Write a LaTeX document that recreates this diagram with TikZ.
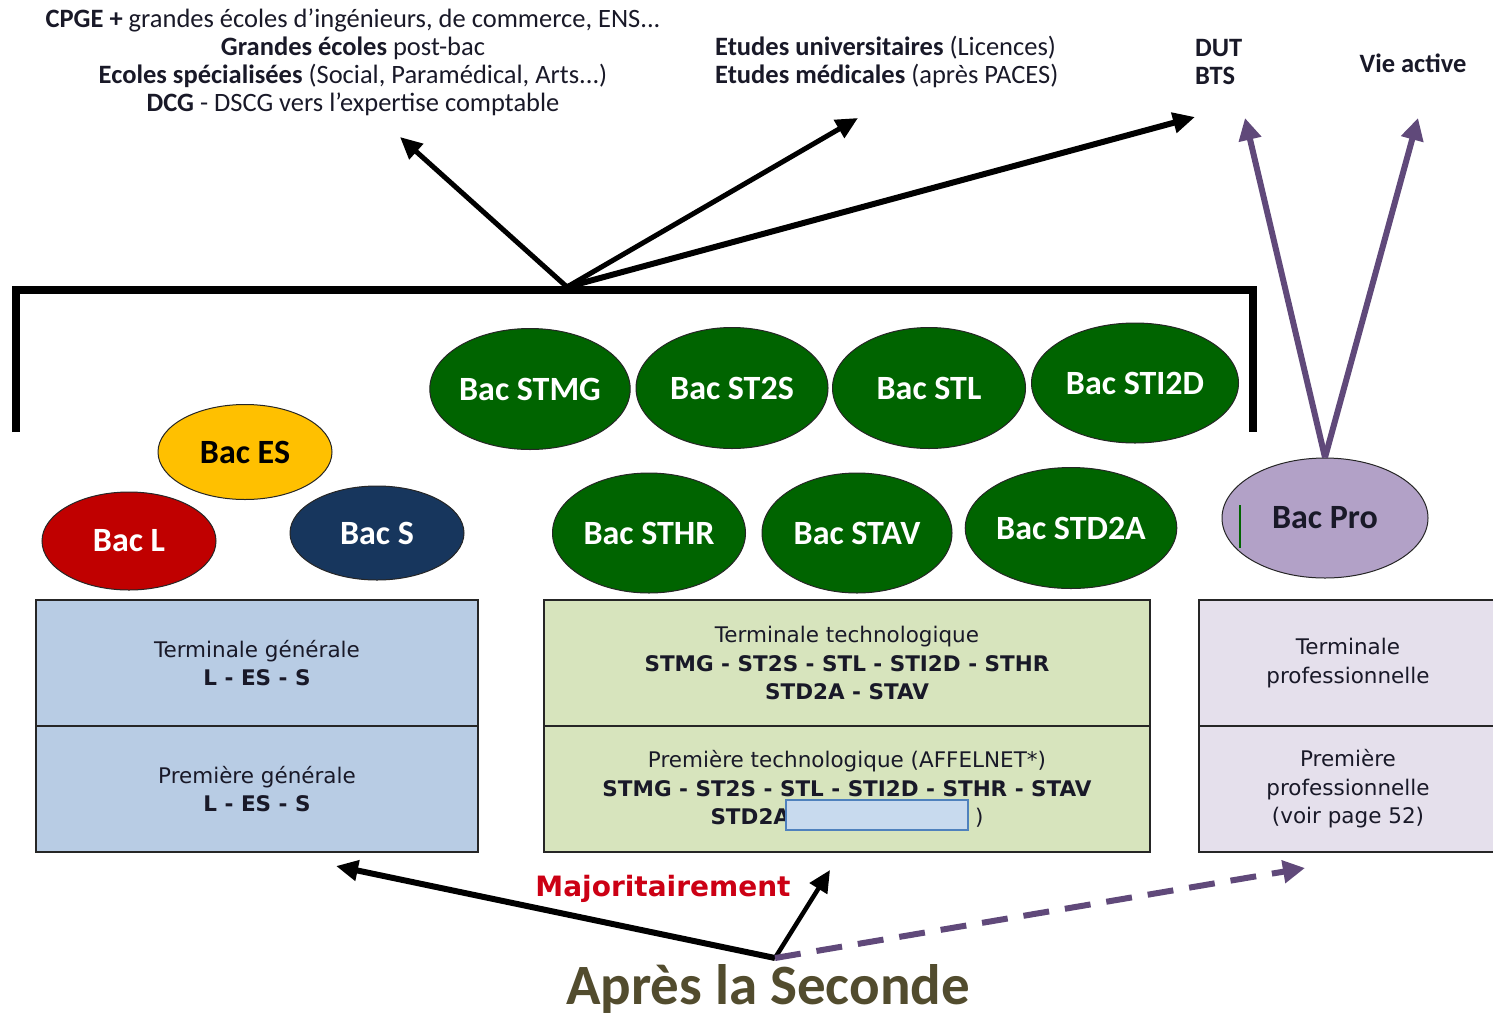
\documentclass[tikz,border=0pt]{standalone}
\usepackage{fontspec}
\setmainfont{Carlito}
\newfontfamily\boxfont{DejaVu Sans}
\usetikzlibrary{shapes.geometric,arrows.meta}
\definecolor{bacgreen}{RGB}{0,100,0}
\definecolor{bacred}{RGB}{192,0,0}
\definecolor{bacyellow}{RGB}{255,192,0}
\definecolor{bacnavy}{RGB}{23,54,93}
\definecolor{bacpro}{RGB}{178,161,199}
\definecolor{propurple}{RGB}{96,73,122}
\definecolor{genfill}{RGB}{184,204,228}
\definecolor{techfill}{RGB}{215,228,189}
\definecolor{profill}{RGB}{229,224,236}
\definecolor{redact}{RGB}{200,218,238}
\definecolor{redactedge}{RGB}{79,129,189}
\definecolor{txtdark}{RGB}{25,25,40}
\definecolor{olive}{RGB}{82,76,46}
\definecolor{majred}{RGB}{204,0,20}
\begin{document}
\begin{tikzpicture}[x=1pt,y=-1pt,
  bac/.style={ellipse, draw=black!85, line width=1pt, inner sep=0pt, text=white,
    font=\bfseries\fontsize{34}{34}\selectfont},
  classbox/.style={rectangle, draw=black!85, line width=1.5pt, inner sep=0pt, align=center,
    text=txtdark, font=\boxfont\fontsize{21.5}{28.5}\selectfont},
  toptext/.style={align=center, text=txtdark, font=\fontsize{26.5}{28}\selectfont, inner sep=0pt},
  blackarrow/.style={draw=black, line width=5pt, -{Triangle[length=22pt,width=20pt]}},
  purplearrow/.style={draw=propurple, line width=6pt, -{Triangle[length=22pt,width=22pt]}}
]
\useasboundingbox (0,0) rectangle (1493,1018);

% top texts
\node[toptext] (dest1) at (353,62) {\textbf{CPGE +} grandes écoles d'ingénieurs, de commerce, ENS...\\
  \textbf{Grandes écoles} post-bac\\
  \textbf{Ecoles spécialisées} (Social, Paramédical, Arts...)\\
  \textbf{DCG} - DSCG vers l'expertise comptable};
\node[toptext, align=left, anchor=west] (dest2) at (715,62) {\textbf{Etudes universitaires} (Licences)\\
  \textbf{Etudes médicales} (après PACES)};
\node[toptext, align=left, anchor=west] (dest3) at (1195,62) {\textbf{DUT}\\\textbf{BTS}};
\node[toptext] (dest4) at (1413,63) {\textbf{Vie active}};

% bracket
\draw[line width=8pt, line join=miter] (16,432) -- (16,290) -- (1253,290) -- (1253,432);
\coordinate (hub) at (567,287);
\coordinate (e1) at (400,137);
\coordinate (e2) at (858,118);
\coordinate (e3) at (1195,117);
\draw[blackarrow] (hub) -- (e1);
\draw[blackarrow] (hub) -- (e2);
\draw[blackarrow, line width=6pt] (hub) -- (e3);

% ellipses
\node[bac, fill=bacyellow, text=black, minimum width=174pt, minimum height=95pt] (es) at (245,452) {Bac ES};
\node[bac, fill=bacred, minimum width=174pt, minimum height=98pt] (l) at (129,541) {Bac L};
\node[bac, fill=bacnavy, minimum width=174pt, minimum height=94pt] (s) at (377,533) {Bac S};
\node[bac, fill=bacgreen, minimum width=193pt, minimum height=121pt] (stmg) at (530,389) {Bac STMG};
\node[bac, fill=bacgreen, minimum width=192pt, minimum height=121pt] (st2s) at (732,388) {Bac ST2S};
\node[bac, fill=bacgreen, minimum width=193pt, minimum height=121pt] (stl) at (929,388) {Bac STL};
\node[bac, fill=bacgreen, minimum width=207pt, minimum height=120pt] (sti2d) at (1135,383) {Bac STI2D};
\node[bac, fill=bacgreen, minimum width=193pt, minimum height=120pt] (sthr) at (649,533) {Bac STHR};
\node[bac, fill=bacgreen, minimum width=190pt, minimum height=120pt] (stav) at (857,533) {Bac STAV};
\node[bac, fill=bacgreen, minimum width=204pt, minimum height=121pt] (std2a) at (1071,528) {Bac STD2A};
\node[bac, fill=bacpro, text=txtdark, minimum width=206pt, minimum height=120pt] (pro) at (1325,518) {Bac Pro};
\draw[bacgreen, line width=1.5pt] (1240,505) -- (1240,548);

% purple arrows
\coordinate (p1) at (1245,118);
\coordinate (p2) at (1418,118);
\draw[purplearrow] (pro.north) -- (p1);
\draw[purplearrow] (pro.north) -- (p2);

% class boxes
\node[classbox, fill=genfill, minimum width=442pt, minimum height=126pt] (termgen) at (257,663)
  {Terminale générale\\\textbf{L - ES - S}};
\node[classbox, fill=genfill, minimum width=442pt, minimum height=126pt] (premgen) at (257,789)
  {Première générale\\\textbf{L - ES - S}};
\node[classbox, fill=techfill, minimum width=606pt, minimum height=126pt] (termtech) at (847,663)
  {Terminale technologique\\\textbf{STMG - ST2S - STL - STI2D - STHR}\\\textbf{STD2A - STAV}};
\node[classbox, fill=techfill, minimum width=606pt, minimum height=126pt] (premtech) at (847,789)
  {Première technologique (AFFELNET*)\\\textbf{STMG - ST2S - STL - STI2D - STHR - STAV}\\\textbf{STD2A}\hspace{185pt})};
\node[rectangle, fill=redact, draw=redactedge, line width=1.5pt, minimum width=182pt, minimum height=30pt, inner sep=0pt] (redbox) at (877,815) {};
\node[classbox, fill=profill, minimum width=298pt, minimum height=126pt] (termpro) at (1348,663)
  {Terminale\\professionnelle};
\node[classbox, fill=profill, minimum width=298pt, minimum height=126pt] (prempro) at (1348,789)
  {Première\\professionnelle\\(voir page 52)};

% bottom
\coordinate (origin) at (775,958);
\coordinate (b1) at (336,866);
\coordinate (b2) at (830,870);
\coordinate (b3) at (1305,868);
\draw[blackarrow, line width=6pt] (origin) -- (b1);
\draw[blackarrow, line width=4.5pt] (origin) -- (b2);
\draw[draw=propurple, line width=6pt, dash pattern=on 26pt off 16pt, -{Triangle[length=22pt,width=22pt]}] (origin) -- (b3);
\node[text=majred, font=\boxfont\bfseries\fontsize{28}{28}\selectfont, inner sep=0pt] (maj) at (663,889) {Majoritairement};
\node[text=olive, font=\bfseries\fontsize{57}{57}\selectfont, inner sep=0pt] (seconde) at (768,989) {Après la Seconde};
\end{tikzpicture}
\end{document}
